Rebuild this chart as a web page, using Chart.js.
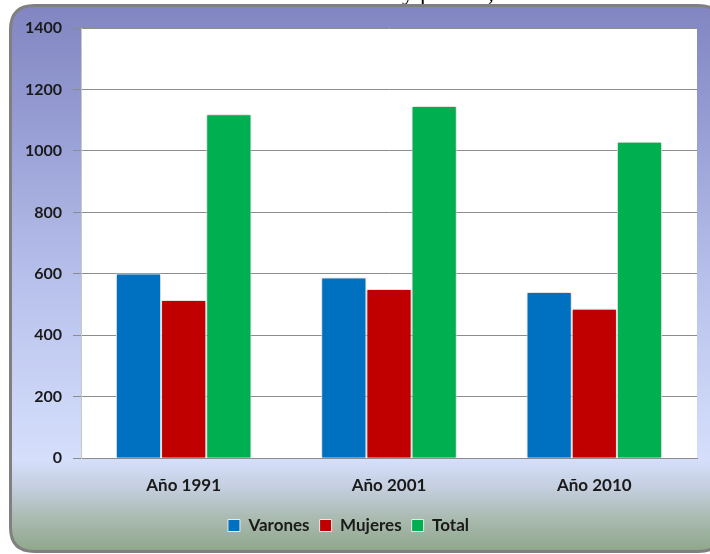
<!DOCTYPE html>
<html>
<head>
<meta charset="utf-8">
<script src="https://cdn.jsdelivr.net/npm/chart.js@4.4.1/dist/chart.umd.min.js"></script>
<style>
  html, body { margin: 0; padding: 0; background: #ffffff; }
  #wrap { width: 710px; height: 554px; }
</style>
</head>
<body>
<div id="wrap"><canvas id="c" width="710" height="554"></canvas></div>
<script>
// ---- data ----
const categories = ['Año 1991', 'Año 2001', 'Año 2010'];
const varones = [601, 588, 541];
const mujeres = [515, 551, 486];
const total = [1119, 1146, 1030];
const yTicks = [0, 200, 400, 600, 800, 1000, 1200, 1400];
const seriesNames = ['Varones', 'Mujeres', 'Total'];
const titleFragment = 'y partido,';

const FONT = 'Lato, "Open Sans", sans-serif';

const framePlugin = {
  id: 'frame',
  beforeDraw(chart) {
    const ctx = chart.ctx;
    const W = chart.width, H = chart.height;
    ctx.save();
    ctx.fillStyle = '#ffffff';
    ctx.fillRect(0, 0, W, H);
    // cut-off title above the frame
    ctx.fillStyle = '#000000';
    ctx.font = '24px "Liberation Serif", serif';
    ctx.textBaseline = 'alphabetic';
    ctx.textAlign = 'left';
    ctx.fillText(titleFragment, 402, 0);
    // frame
    const x = 10.5, y = 5.5, w = 712, h = 546, r = 24;
    const g = ctx.createLinearGradient(0, 5, 0, 552);
    g.addColorStop(0.00, '#8185C1');
    g.addColorStop(0.25, '#9AA1D6');
    g.addColorStop(0.50, '#B7C0EB');
    g.addColorStop(0.83, '#D5DFFB');
    g.addColorStop(0.88, '#C5CFE0');
    g.addColorStop(0.94, '#A9BAAF');
    g.addColorStop(1.00, '#8FA68A');
    ctx.beginPath();
    ctx.moveTo(x + r, y);
    ctx.lineTo(x + w - r, y);
    ctx.quadraticCurveTo(x + w, y, x + w, y + r);
    ctx.lineTo(x + w, y + h - r);
    ctx.quadraticCurveTo(x + w, y + h, x + w - r, y + h);
    ctx.lineTo(x + r, y + h);
    ctx.quadraticCurveTo(x, y + h, x, y + h - r);
    ctx.lineTo(x, y + r);
    ctx.quadraticCurveTo(x, y, x + r, y);
    ctx.closePath();
    ctx.fillStyle = g;
    ctx.fill();
    ctx.lineWidth = 3;
    ctx.strokeStyle = '#808080';
    ctx.stroke();
    // plot area
    const a = chart.chartArea;
    ctx.fillStyle = '#ffffff';
    ctx.fillRect(a.left, a.top, a.right - a.left, a.bottom - a.top);
    ctx.restore();
  },
  beforeDatasetsDraw(chart) {
    const ctx = chart.ctx;
    ctx.save();
    ctx.shadowColor = 'rgba(0,0,0,0.28)';
    ctx.shadowBlur = 4;
    ctx.shadowOffsetX = 0;
    ctx.shadowOffsetY = 0;
  },
  afterDatasetsDraw(chart) {
    chart.ctx.restore();
  }
};

new Chart(document.getElementById('c'), {
  type: 'bar',
  data: {
    labels: categories,
    datasets: [
      { label: seriesNames[0], data: varones, backgroundColor: '#0070C0', borderColor: '#ffffff', borderWidth: 1 },
      { label: seriesNames[1], data: mujeres, backgroundColor: '#C00000', borderColor: '#ffffff', borderWidth: 1 },
      { label: seriesNames[2], data: total, backgroundColor: '#00B050', borderColor: '#ffffff', borderWidth: 1 }
    ]
  },
  options: {
    responsive: false,
    animation: false,
    devicePixelRatio: 1,
    layout: { padding: { left: 0, right: 13, top: 28, bottom: 10 } },
    datasets: { bar: { categoryPercentage: 0.66, barPercentage: 1.0 } },
    scales: {
      x: {
        grid: { display: false, drawTicks: false },
        border: { display: true, color: '#8c8c8c', width: 1 },
        ticks: { color: '#1a1a1a', font: { family: FONT, size: 17, weight: 'bold' }, padding: 17 },
        afterFit(scale) { scale.height = 554 - 10 - 39.2 - 456; }
      },
      y: {
        min: 0, max: 1400,
        afterBuildTicks(scale) { scale.ticks = yTicks.map(v => ({ value: v })); },
        grid: { color: '#8c8c8c', lineWidth: 1, drawTicks: true, tickLength: 8 },
        border: { display: true, color: '#c8c8c8', width: 1 },
        ticks: {
          color: '#1a1a1a', font: { family: FONT, size: 16, weight: 'bold' }, padding: 11,
          callback: (v) => String(v)
        },
        afterFit(scale) { scale.width = 81; }
      }
    },
    plugins: {
      legend: {
        position: 'bottom',
        labels: {
          color: '#1a1a1a',
          font: { family: FONT, size: 17, weight: 'bold' },
          boxWidth: 12, boxHeight: 12, padding: 10,
          generateLabels(chart) {
            return chart.data.datasets.map((d, i) => ({
              text: d.label, fillStyle: d.backgroundColor, strokeStyle: '#e8e8e8',
              lineWidth: 1, hidden: false, datasetIndex: i, fontColor: '#1a1a1a'
            }));
          }
        }
      },
      tooltip: { enabled: false },
      title: { display: false }
    }
  },
  plugins: [framePlugin]
});
</script>
</body>
</html>
